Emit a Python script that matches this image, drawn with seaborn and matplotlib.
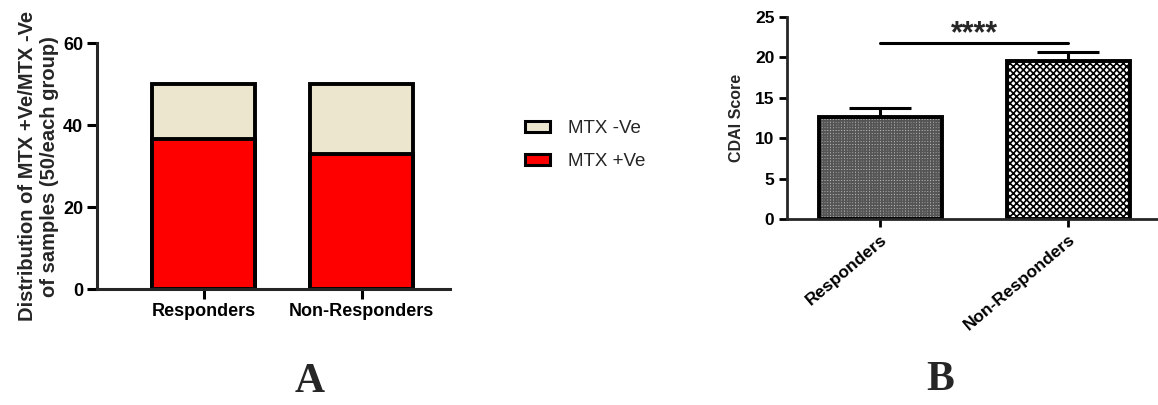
import numpy as np
import pandas as pd
import seaborn as sns
import matplotlib.pyplot as plt
from matplotlib.patches import Patch

# Data
groups = ["Responders", "Non-Responders"]
mtx_pos = [36.5, 33]          # MTX +Ve count per group
group_total = [50, 50]        # samples per group
cdai_mean = [12.6, 19.5]
cdai_err = [1.1, 1.1]
sig_height = 21.75
sig_label = "****"

sns.set_style("ticks")
plt.rcParams['font.family'] = ['Liberation Sans', 'DejaVu Sans']

fig = plt.figure(figsize=(11.58, 4.05), dpi=100)

# Panel A: stacked bars
axA = fig.add_axes([0.0838, 0.2864, 0.305, 0.607])
df_a = pd.DataFrame({"group": groups, "total": group_total, "pos": mtx_pos})
sns.barplot(data=df_a, x="group", y="total", color="#ede6cf", width=0.65,
            edgecolor="black", linewidth=2.8, saturation=1, ax=axA)
sns.barplot(data=df_a, x="group", y="pos", color="#ff0000", width=0.65,
            edgecolor="black", linewidth=2.8, saturation=1, ax=axA)
axA.set_xlim(-0.674, 1.56)
axA.set_ylim(0, 60)
axA.set_yticks([0, 20, 40, 60])
axA.set_xlabel("")
axA.set_ylabel("Distribution of MTX +Ve/MTX -Ve\nof samples (50/each group)",
               fontsize=14.5, fontweight="bold", labelpad=3, linespacing=1.2)
for lab in axA.get_xticklabels() + axA.get_yticklabels():
    lab.set_fontweight("bold")
    lab.set_fontsize(13)
sns.despine(ax=axA)
for s in ["left", "bottom"]:
    axA.spines[s].set_linewidth(2.2)
axA.tick_params(width=2.2, length=7, colors="black", pad=3)

handles = [Patch(facecolor="#ede6cf", edgecolor="black", linewidth=2.2, label="MTX -Ve"),
           Patch(facecolor="#ff0000", edgecolor="black", linewidth=2.2, label="MTX +Ve")]
fig.legend(handles=handles, loc="upper left", bbox_to_anchor=(0.439, 0.745),
           frameon=False, fontsize=13.5, handlelength=1.3, handleheight=0.6,
           labelspacing=0.85, handletextpad=1.0)

# Panel B: CDAI score
axB = fig.add_axes([0.6796, 0.4585, 0.3204, 0.5002])
df_b = pd.DataFrame({"group": groups, "cdai": cdai_mean})
plt.rcParams['hatch.linewidth'] = 1.2
sns.barplot(data=df_b, x="group", y="cdai", color="white", width=0.654,
            edgecolor="#555555", linewidth=0, saturation=1, ax=axB)
axB.patches[0].set_facecolor("#b8b8b8")
axB.patches[0].set_hatch("++++++")
axB.patches[1].set_facecolor("white")
axB.patches[1].set_edgecolor("black")
axB.patches[1].set_hatch("xxxxx")
# black outlines on top
sns.barplot(data=df_b, x="group", y="cdai", fill=False, width=0.654,
            edgecolor="black", linewidth=2.8, ax=axB)
axB.errorbar(range(len(groups)), cdai_mean, yerr=[[0, 0], cdai_err], fmt="none",
             ecolor="black", elinewidth=2.2, capsize=22, capthick=2.2, zorder=1)
axB.plot([0, 1], [sig_height, sig_height], color="black", lw=2.2)
axB.text(0.5, sig_height - 0.8, sig_label, ha="center", va="bottom",
         fontsize=22, fontweight="bold", family="Liberation Sans")
axB.set_xlim(-0.497, 1.476)
axB.set_ylim(0, 25)
axB.set_yticks([0, 5, 10, 15, 20, 25])
axB.set_xlabel("")
axB.set_ylabel("CDAI Score", fontsize=11.5, fontweight="bold", labelpad=8)
axB.set_xticks(range(len(groups)))
axB.set_xticklabels(groups, rotation=40, ha="right", rotation_mode="anchor")
for lab in axB.get_xticklabels() + axB.get_yticklabels():
    lab.set_fontweight("bold")
    lab.set_fontsize(12.5)
sns.despine(ax=axB)
for s in ["left", "bottom"]:
    axB.spines[s].set_linewidth(2)
axB.tick_params(width=2, length=6, colors="black", pad=3)

# Panel letters
fig.text(310 / 1158, 1 - 382 / 405, "A", fontsize=30, fontweight="bold",
         family="Liberation Serif", ha="center", va="center")
fig.text(940 / 1158, 1 - 380 / 405, "B", fontsize=30, fontweight="bold",
         family="Liberation Serif", ha="center", va="center")

fig.savefig("out.png", dpi=100)
